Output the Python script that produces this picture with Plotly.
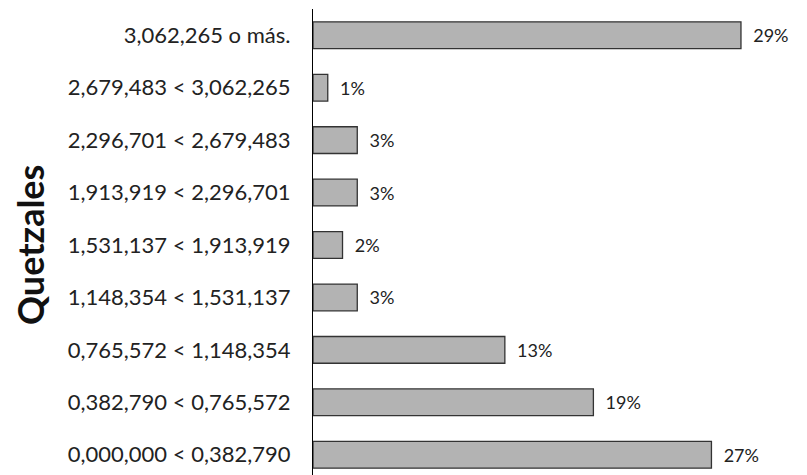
import plotly.graph_objects as go

categories = [
    "0,000,000 < 0,382,790",
    "0,382,790 < 0,765,572",
    "0,765,572 < 1,148,354",
    "1,148,354 < 1,531,137",
    "1,531,137 < 1,913,919",
    "1,913,919 < 2,296,701",
    "2,296,701 < 2,679,483",
    "2,679,483 < 3,062,265",
    "3,062,265 o más.",
]
values = [27, 19, 13, 3, 2, 3, 3, 1, 29]
value_labels = ["\u00a0\u00a0%d%%" % v for v in values]

FONT = "Lato"

fig = go.Figure()
fig.add_trace(go.Bar(
    y=list(range(len(categories))),
    x=values,
    orientation="h",
    marker=dict(color="#b3b3b3", line=dict(color="#333333", width=1.3)),
    text=value_labels,
    textposition="outside",
    cliponaxis=False,
    textfont=dict(family=FONT, size=18, color="#222222"),
    width=0.51,
    hoverinfo="skip",
))

fig.update_layout(
    width=807, height=475,
    margin=dict(l=305, r=15, t=1, b=1.5, autoexpand=False),
    paper_bgcolor="white", plot_bgcolor="white",
    showlegend=False,
    uniformtext=dict(minsize=18, mode="show"),
    xaxis=dict(range=[0, 33], visible=False, automargin=False),
    yaxis=dict(
        range=[-0.5, 8.5],
        automargin=False,
        tickmode="array",
        tickvals=list(range(len(categories))),
        ticktext=categories,
        showline=True, linecolor="#000000", linewidth=1.3,
        showgrid=False, zeroline=False,
        ticks="", ticklabelstandoff=17,
        tickfont=dict(family=FONT, size=22, color="#222222"),
    ),
    annotations=[dict(
        text="<b>Quetzales</b>", xref="paper", yref="paper",
        x=(30 - 313) / 487.0, y=0.5, xanchor="center", yanchor="middle",
        textangle=-90, showarrow=False,
        font=dict(family=FONT, size=36, color="#111111"),
    )],
)

fig.write_html("out.html")
